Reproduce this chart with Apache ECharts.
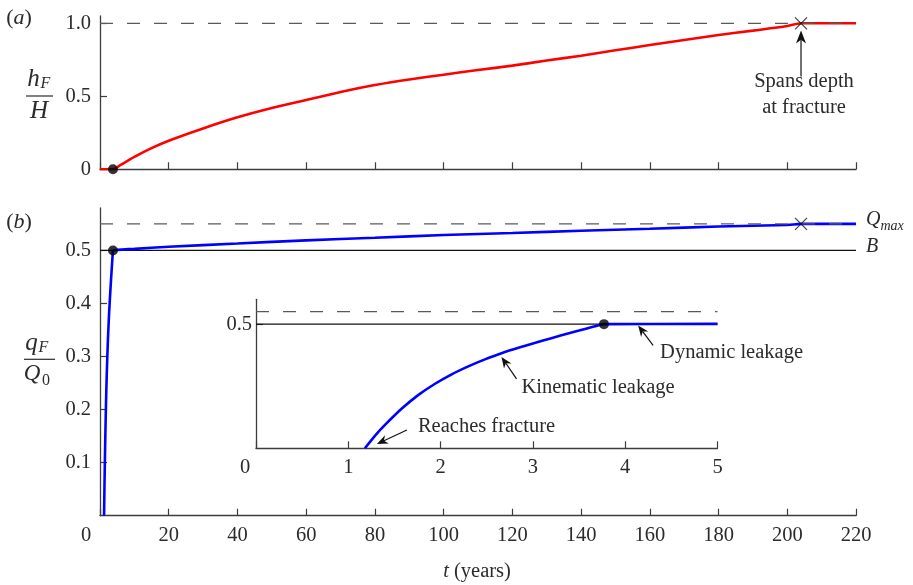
<!DOCTYPE html>
<html><head><meta charset="utf-8">
<script src="https://cdn.jsdelivr.net/npm/echarts@6/dist/echarts.min.js"></script>
<style>html,body{margin:0;padding:0;background:#fff}#c{width:913px;height:585px}</style>
</head><body><div id="c"></div>
<script>
// ---------- data ----------
const tH = [0, 3.77, 6, 10, 15, 20, 30, 40, 50, 60, 70, 80, 90, 100, 110, 120, 130, 140, 150, 160, 170, 180, 190, 200, 204, 220];
const hF = [0, 0, 0.03, 0.085, 0.145, 0.196, 0.28, 0.356, 0.42, 0.475, 0.53, 0.577, 0.615, 0.648, 0.68, 0.71, 0.745, 0.778, 0.815, 0.851, 0.886, 0.92, 0.95, 0.981, 1.0, 1.0];
const tQEarly = [1.18, 1.3, 1.4, 1.58, 1.76, 1.94, 2.12, 2.3, 2.48, 2.66, 2.9, 3.1, 3.3, 3.5, 3.65, 3.77];
const qEarly  = [0, 0.055, 0.095, 0.16, 0.215, 0.26, 0.298, 0.33, 0.358, 0.383, 0.411, 0.433, 0.454, 0.474, 0.489, 0.5];
const tQLate = [5, 10, 20, 40, 60, 80, 100, 120, 140, 160, 180, 200, 204, 220];
const qLate  = [0.501, 0.503, 0.507, 0.513, 0.519, 0.524, 0.529, 0.533, 0.537, 0.541, 0.545, 0.548, 0.55, 0.55];
const xTicksMain = [0, 20, 40, 60, 80, 100, 120, 140, 160, 180, 200, 220];
const xTicksInset = [0, 1, 2, 3, 4, 5];
const yTicksA = [0, 0.5, 1.0];
const yTicksB = [0.1, 0.2, 0.3, 0.4, 0.5];
const yTicksInset = [0.5];
const hFull = 1.0, bLevel = 0.5, qMax = 0.55;
const tDynamic = 3.77, tSpan = 204;

// ---------- helpers ----------
const zip = (a, b) => a.map((v, i) => [v, b[i]]);
const FONT = '"Liberation Serif", "Times New Roman", serif';
const TXT = '#2b2b2b', AX = '#3c3c3c', DASH = '#5a5a5a';
const FS = 20.5;

const qEarlyPts = zip(tQEarly, qEarly);
const qLatePts = zip(tQLate, qLate);
const qInset = qEarlyPts.concat(qLatePts.filter(p => p[0] <= 5));

function xAxis(gi, max, ticks, showLabel, zeroPad) {
  return {
    type: 'value', gridIndex: gi, min: 0, max: max,
    axisLine: {show: true, onZero: false, lineStyle: {color: AX, width: 1.3}},
    axisTick: {show: true, inside: true, length: 7, customValues: ticks, lineStyle: {color: AX, width: 1.2}},
    axisLabel: {show: showLabel, customValues: ticks, margin: 9, fontFamily: FONT, fontSize: FS, color: TXT,
      formatter: v => v === 0 ? '{z|0}' : String(v),
      rich: {z: {padding: [0, zeroPad, 0, 0], fontFamily: FONT, fontSize: FS, color: TXT}}},
    splitLine: {show: false}
  };
}
function yAxis(gi, max, ticks, fmt, margin) {
  return {
    type: 'value', gridIndex: gi, min: 0, max: max,
    axisLine: {show: true, onZero: false, lineStyle: {color: AX, width: 1.3}},
    axisTick: {show: true, inside: true, length: 7, customValues: ticks, lineStyle: {color: AX, width: 1.2}},
    axisLabel: {customValues: ticks, margin: margin, fontFamily: FONT, fontSize: FS, color: TXT, formatter: fmt},
    splitLine: {show: false}
  };
}
function hline(gi, x0, x1, y, dashed, color, z) {
  return {type: 'line', xAxisIndex: gi, yAxisIndex: gi, data: [[x0, y], [x1, y]], symbol: 'none', silent: true, z: z,
    lineStyle: {color: color, width: 1.3, type: dashed ? [13, 14] : 'solid'}};
}
function curve(gi, data, color) {
  return {type: 'line', xAxisIndex: gi, yAxisIndex: gi, data: data, symbol: 'none', silent: true, z: 3,
    smooth: 0.3, lineStyle: {color: color, width: 2.6}};
}
function dot(gi, p) {
  return {type: 'scatter', xAxisIndex: gi, yAxisIndex: gi, data: [p], symbol: 'circle', symbolSize: 10, z: 10,
    itemStyle: {color: '#000'}, silent: true};
}
function cross(gi, p) {
  return {type: 'scatter', xAxisIndex: gi, yAxisIndex: gi, data: [p], symbol: 'path://M0,0L10,10M10,0L0,10', symbolSize: 12, z: 10,
    itemStyle: {color: 'rgba(0,0,0,0)', borderColor: '#111', borderWidth: 1.2}, silent: true};
}

const chart = echarts.init(document.getElementById('c'), null, {renderer: 'canvas'});
chart.setOption({
  animation: false,
  backgroundColor: '#fff',
  grid: [
    {left: 100, top: 16, width: 756, height: 153.3},
    {left: 100, top: 208, width: 756, height: 307.7},
    {left: 256, top: 299.3, width: 461.5, height: 149}
  ],
  xAxis: [
    xAxis(0, 220, xTicksMain, false, 28),
    xAxis(1, 220, xTicksMain, true, 28),
    xAxis(2, 5, xTicksInset, true, 22)
  ],
  yAxis: [
    yAxis(0, 1.05, yTicksA, v => v === 0 ? '0' : v.toFixed(1), 9),
    yAxis(1, 0.58, yTicksB, v => v.toFixed(1), 9),
    yAxis(2, 0.6, yTicksInset, v => v.toFixed(1), 4)
  ],
  series: [
    // panel (a)
    curve(0, zip(tH, hF), '#ff0000'),
    hline(0, 0, 220, hFull, true, DASH, 4),
    dot(0, [tDynamic, 0]),
    cross(0, [tSpan, hFull]),
    // panel (b)
    hline(1, 0, 220, bLevel, false, '#111', 2),
    curve(1, qEarlyPts, '#0000ff'),
    curve(1, [qEarlyPts[qEarlyPts.length - 1]].concat(qLatePts), '#0000ff'),
    hline(1, 0, 220, qMax, true, DASH, 4),
    dot(1, [tDynamic, bLevel]),
    cross(1, [tSpan, qMax]),
    // inset
    hline(2, 0, 5, bLevel, false, '#111', 2),
    hline(2, 0, 5, qMax, true, DASH, 4),
    curve(2, qInset, '#0000ff'),
    dot(2, [tDynamic, bLevel])
  ]
});

// ---------- annotations ----------
const px = (gi, p) => chart.convertToPixel({gridIndex: gi}, p);
function arrow(tail, tip, L, W) {
  const dx = tip[0] - tail[0], dy = tip[1] - tail[1];
  const len = Math.hypot(dx, dy), ux = dx / len, uy = dy / len, nx = -uy, ny = ux;
  const bx = tip[0] - ux * L, by = tip[1] - uy * L;
  const mx = tip[0] - ux * L * 0.7, my = tip[1] - uy * L * 0.7;
  return [
    {type: 'line', shape: {x1: tail[0], y1: tail[1], x2: mx, y2: my}, style: {stroke: '#111', lineWidth: 1.2}, z: 20, silent: true},
    {type: 'polygon', shape: {points: [tip, [bx + nx * W, by + ny * W], [mx, my], [bx - nx * W, by - ny * W]]}, style: {fill: '#111'}, z: 20, silent: true}
  ];
}
function txt(text, x, y, size, italic, align, extra) {
  const s = Object.assign({text: text, x: x, y: y, font: (italic ? 'italic ' : '') + size + 'px ' + FONT, fill: TXT,
    align: align || 'center', textAlign: align || 'center', verticalAlign: 'middle', textVerticalAlign: 'middle'}, extra || {});
  return {type: 'text', style: s, z: 20, silent: true};
}

const g = [];
// Spans depth
const sTip = px(0, [tSpan, 0.95]);
g.push(...arrow([sTip[0], sTip[1] + 46], sTip, 13, 5));
g.push(txt('Spans depth', sTip[0] + 3, sTip[1] + 51, FS));
g.push(txt('at fracture', sTip[0] + 3, sTip[1] + 77, FS));
// Inset annotations
const rTip = px(2, [1.31, 0.017]);
g.push(...arrow([rTip[0] + 30, rTip[1] - 14], rTip, 11, 4.5));
g.push(txt('Reaches fracture', rTip[0] + 41, rTip[1] - 17, FS, false, 'left'));
const kTip = px(2, [2.66, 0.368]);
g.push(...arrow([kTip[0] + 15, kTip[1] + 22], kTip, 11, 4.5));
g.push(txt('Kinematic leakage', kTip[0] + 20, kTip[1] + 31, FS, false, 'left'));
const dTip = px(2, [4.14, 0.495]);
g.push(...arrow([dTip[0] + 15, dTip[1] + 20], dTip, 11, 4.5));
g.push(txt('Dynamic leakage', dTip[0] + 22, dTip[1] + 27, FS, false, 'left'));

// Panel labels
g.push({type: 'text', style: {text: '({i|a})', x: 19, y: 18.5, font: '22px ' + FONT, fill: TXT, align: 'center', textAlign: 'center', verticalAlign: 'middle', textVerticalAlign: 'middle',
  rich: {i: {fontStyle: 'italic', fontSize: 22, fontFamily: FONT, fill: TXT}}}, z: 20});
g.push({type: 'text', style: {text: '({i|b})', x: 19, y: 222, font: '22px ' + FONT, fill: TXT, align: 'center', textAlign: 'center', verticalAlign: 'middle', textVerticalAlign: 'middle',
  rich: {i: {fontStyle: 'italic', fontSize: 22, fontFamily: FONT, fill: TXT}}}, z: 20});

// y titles
g.push(txt('h', 33.5, 79, 25, true));
g.push(txt('F', 45.5, 84, 16, true));
g.push({type: 'line', shape: {x1: 26, y1: 96, x2: 53, y2: 96}, style: {stroke: TXT, lineWidth: 1.2}, z: 20});
g.push(txt('H', 39, 111, 25, true));

g.push(txt('q', 31.5, 343.5, 25, true));
g.push(txt('F', 43.5, 348, 16, true));
g.push({type: 'line', shape: {x1: 24, y1: 359.3, x2: 55, y2: 359.3}, style: {stroke: TXT, lineWidth: 1.2}, z: 20});
g.push(txt('Q', 32, 374, 23, true));
g.push(txt('0', 46, 381, 16, false));

// right-side labels
g.push(txt('Q', 866, 219.5, 20, true, 'left'));
g.push(txt('max', 880.5, 226.5, 14, true, 'left'));
g.push(txt('B', 866, 247, 20, true, 'left'));

// x title
g.push({type: 'text', style: {text: '{i|t} (years)', x: 477, y: 572, font: FS + 'px ' + FONT, fill: TXT, align: 'center', textAlign: 'center', verticalAlign: 'middle', textVerticalAlign: 'middle',
  rich: {i: {fontStyle: 'italic', fontSize: FS, fontFamily: FONT, fill: TXT}}}, z: 20});

chart.setOption({graphic: {elements: g}});
</script>
</body></html>
